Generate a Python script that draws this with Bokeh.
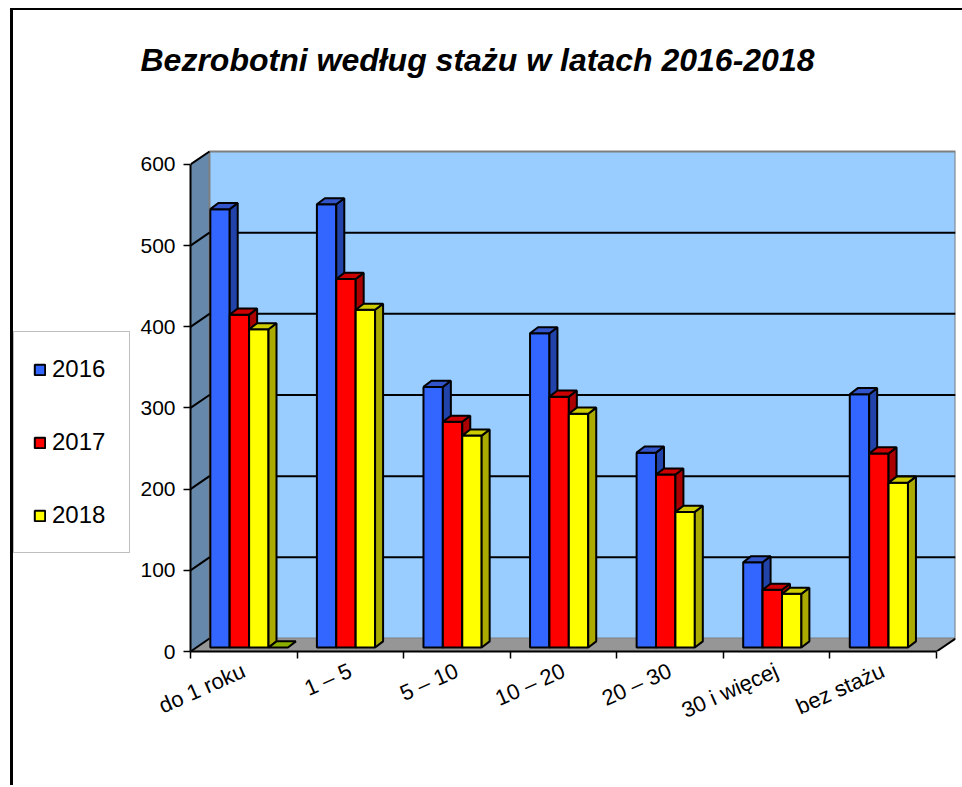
import numpy as np
from bokeh.plotting import figure
from bokeh.layouts import row
from bokeh.models import Range1d, FixedTicker, Legend, LegendItem
from bokeh.embed import file_html
from bokeh.resources import INLINE

# ---- data ----
categories = ["do 1 roku", "1 – 5", "5 – 10", "10 – 20", "20 – 30", "30 i więcej", "bez stażu"]
years = ["2016", "2017", "2018"]
v2016 = [540, 546, 321, 387, 240, 105, 312]
v2017 = [410, 454, 278, 309, 213, 71, 239]
v2018 = [392, 416, 261, 288, 167, 66, 203]
v_extra = [0, None, None, None, None, None, None]
y_ticks = [0, 100, 200, 300, 400, 500, 600]

front_colors = ["#3366FF", "#FF0000", "#FFFF00", "#99CC00"]
side_colors = ["#2244AA", "#AA0000", "#AAAA00", "#6E9000"]
top_colors = ["#3355CC", "#CC0000", "#CCCC00", "#8DB000"]

FONT = "Liberation Sans"
N = len(categories)
YMAX = y_ticks[-1]
# 3-D geometry (data units: one category slot = 1.0 in x)
DDX, DDY = 0.178, 16.0     # wall depth
FX, FY = 0.05, 5.0         # front face of bars set back from front edge
BDX, BDY = 0.075, 7.5      # bar depth
W = 0.182                  # bar width
GAP = (1 - 4 * W) / 2

H = 775
BORDER_TOP, BORDER_BOTTOM = 90, 134
FRAME_H = H - BORDER_TOP - BORDER_BOTTOM
Y_END = (YMAX + DDY) * FRAME_H / 500.0   # white space above the 3-D box

p = figure(width=832, height=H, x_range=Range1d(0, N + DDX), y_range=Range1d(0, Y_END),
           output_backend="svg", toolbar_location=None,
           min_border_left=60, min_border_right=7,
           min_border_top=BORDER_TOP, min_border_bottom=BORDER_BOTTOM)
p.outline_line_color = None
p.xgrid.visible = False
p.ygrid.visible = False

# walls and floor
p.patch([0, DDX, DDX, 0], [0, DDY, YMAX + DDY, YMAX], fill_color="#6688AA", line_color=None)
p.quad(left=DDX, right=N + DDX, bottom=DDY, top=YMAX + DDY, fill_color="#99CCFF",
       line_color="#7F7F7F", line_width=2)
p.patch([0, N, N + DDX, DDX], [0, 0, DDY, DDY], fill_color="#969696", line_color=None)

gy = [t + DDY for t in y_ticks[1:-1]]
p.segment(x0=DDX, y0=gy, x1=N + DDX, y1=gy, line_color="black", line_width=2)
p.segment(x0=0, y0=y_ticks, x1=DDX, y1=[t + DDY for t in y_ticks], line_color="black", line_width=2)
p.line([N, N + DDX], [0, DDY], line_color="black", line_width=2)

# bars
for i, vals in enumerate([v2016, v2017, v2018, v_extra]):
    arr = np.array([np.nan if v is None else v for v in vals], dtype=float)
    mask = ~np.isnan(arr)
    xl = (np.arange(N) + GAP + i * W + FX)[mask]
    top = arr[mask] + FY
    xr = xl + W
    if i < 3:
        p.quad(left=xl, right=xr, bottom=FY, top=top, fill_color=front_colors[i],
               line_color="black", line_width=2)
        p.patches(xs=[[a, a + BDX, a + BDX, a] for a in xr],
                  ys=[[FY, FY + BDY, t + BDY, t] for t in top],
                  fill_color=side_colors[i], line_color="black", line_width=2)
    p.patches(xs=[[a, a + W, a + W + BDX, a + BDX] for a in xl],
              ys=[[t, t, t + BDY, t + BDY] for t in top],
              fill_color=top_colors[i], line_color="black", line_width=2)

# axes
xa = p.xaxis[0]
xa.ticker = FixedTicker(ticks=[k + 0.5 for k in range(N)], minor_ticks=list(range(N + 1)))
xa.major_label_overrides = {k + 0.5: c for k, c in enumerate(categories)}
xa.major_tick_line_color = None
xa.major_tick_out = 0
xa.minor_tick_line_color = "black"
xa.minor_tick_line_width = 1.5
xa.minor_tick_out = 7
xa.minor_tick_in = 0
xa.major_label_orientation = 0.42
xa.major_label_standoff = 11
xa.major_label_text_font = FONT
xa.major_label_text_font_size = "22px"
xa.major_label_text_color = "black"
xa.axis_line_width = 2
xa.bounds = (0, N)

ya = p.yaxis[0]
ya.ticker = FixedTicker(ticks=y_ticks)
ya.minor_tick_line_color = None
ya.major_tick_out = 7
ya.major_tick_in = 0
ya.major_tick_line_width = 1.5
ya.major_label_standoff = 8
ya.major_label_text_font = FONT
ya.major_label_text_font_size = "21px"
ya.major_label_text_color = "black"
ya.axis_line_width = 2
ya.bounds = (0, YMAX)

# title
p.title.text = "Bezrobotni według stażu w latach 2016-2018"
p.title.text_font = FONT
p.title.text_font_style = "bold italic"
p.title.text_font_size = "32px"
p.title.text_color = "black"
p.title.align = "left"
p.title.offset = -50
p.title.standoff = 46

# legend panel (separate figure at the left; its frame is aligned with the main frame)
lf = figure(width=117, height=H, x_range=Range1d(0, 1), y_range=Range1d(0, 1),
            output_backend="svg", toolbar_location=None,
            min_border_left=0, min_border_right=0, min_border_top=0, min_border_bottom=0)
lf.axis.visible = False
lf.grid.visible = False
lf.outline_line_color = None
items = []
for i, yr in enumerate(years):
    # legend swatch renderers; their single box lies outside the visible range
    r = lf.quad(left=[2], right=[3], bottom=[2], top=[3], fill_color=front_colors[i],
                line_color="black", line_width=2)
    items.append(LegendItem(label=yr, renderers=[r]))
legend = Legend(items=items, location=(0, 98),
                glyph_width=13, glyph_height=13, label_standoff=6,
                label_height=36, label_width=58, spacing=37, padding=19, margin=0,
                label_text_font=FONT, label_text_font_size="24px", label_text_color="black",
                border_line_color="#808080", border_line_width=1.5,
                background_fill_color="white", background_fill_alpha=1)
lf.add_layout(legend, "center")

layout = row(lf, p, styles={"margin-left": "10px", "margin-top": "8px",
                            "border-left": "3px solid black", "border-top": "2px solid black"})

open("out.html", "w").write(file_html(layout, INLINE))
